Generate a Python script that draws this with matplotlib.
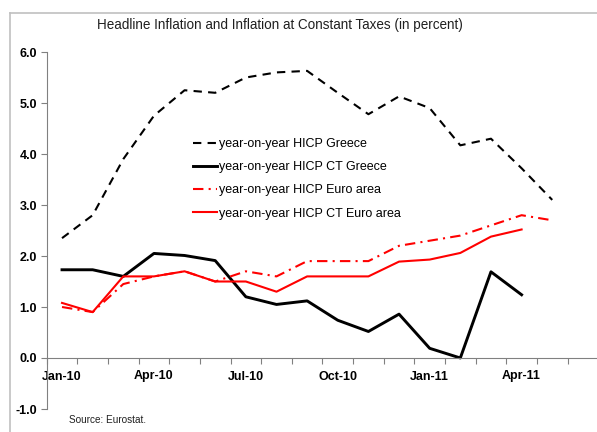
import matplotlib
matplotlib.use('Agg')
import matplotlib.pyplot as plt
from matplotlib.lines import Line2D
import numpy as np

plt.rcParams['font.family'] = ['Liberation Sans', 'DejaVu Sans']

months = ['Jan-10', 'Feb-10', 'Mar-10', 'Apr-10', 'May-10', 'Jun-10', 'Jul-10', 'Aug-10', 'Sep-10',
          'Oct-10', 'Nov-10', 'Dec-10', 'Jan-11', 'Feb-11', 'Mar-11', 'Apr-11', 'May-11', 'Jun-11']

hicp_greece = [2.35, 2.8, 3.9, 4.75, 5.25, 5.2, 5.5, 5.6, 5.63, 5.2, 4.78, 5.13, 4.9, 4.17, 4.3, 3.72, 3.1]
hicp_ct_greece = [1.73, 1.73, 1.6, 2.05, 2.01, 1.91, 1.2, 1.05, 1.12, 0.74, 0.52, 0.86, 0.19, 0.0, 1.69, 1.24]
hicp_euro = [1.0, 0.9, 1.45, 1.6, 1.7, 1.5, 1.7, 1.6, 1.9, 1.9, 1.9, 2.2, 2.3, 2.4, 2.6, 2.8, 2.7]
hicp_ct_euro = [1.08, 0.9, 1.6, 1.6, 1.7, 1.5, 1.5, 1.3, 1.6, 1.6, 1.6, 1.89, 1.93, 2.06, 2.38, 2.52]

labels = ['year-on-year HICP Greece', 'year-on-year HICP CT Greece',
          'year-on-year HICP Euro area', 'year-on-year HICP CT Euro area']

W, H = 597, 432
fig = plt.figure(figsize=(W / 100, H / 100), dpi=100)

# grey frame around the chart (it runs off the image on right and bottom)
fig.add_artist(Line2D([10 / W, 10 / W], [0, 1 - 13 / H], color='#c0c0c0', lw=1.2))
fig.add_artist(Line2D([10 / W, 1], [1 - 13 / H, 1 - 13 / H], color='#c0c0c0', lw=1.2))

ax = fig.add_axes([46.7 / W, 1 - 409 / H, 551.5 / W, 357 / H])

x = np.arange(len(months))
ax.plot(x[:len(hicp_greece)], hicp_greece, color='black', lw=1.5, dashes=(4, 3), label=labels[0])
ax.plot(x[:len(hicp_ct_greece)], hicp_ct_greece, color='black', lw=2.1, label=labels[1])
ax.plot(x[:len(hicp_euro)], hicp_euro, color='#ff0000', lw=1.5, dashes=(5, 2.5, 1, 2.5), label=labels[2])
ax.plot(x[:len(hicp_ct_euro)], hicp_ct_euro, color='#ff0000', lw=1.5, label=labels[3])

ax.set_xlim(-0.5, len(months) - 0.5)
ax.set_ylim(-1.0, 6.0)

for s in ['top', 'right']:
    ax.spines[s].set_visible(False)
ax.spines['bottom'].set_position(('data', 0))
ax.spines['left'].set_color('#808080')
ax.spines['bottom'].set_color('#808080')

ax.set_yticks(np.arange(-1, 7, 1))
ax.set_yticklabels(['%.1f' % v for v in np.arange(-1, 7, 1)], fontsize=9, fontweight='bold')
ax.tick_params(axis='y', direction='out', length=4, color='#808080', pad=3)

ax.set_xticks(np.arange(-0.5, len(months), 1))
ax.set_xticklabels([])
ax.tick_params(axis='x', which='major', direction='out', length=4, color='#808080')
ax.set_xticks(x[::3], minor=True)
ax.set_xticklabels(months[::3], minor=True, fontsize=9, fontweight='bold')
ax.tick_params(axis='x', which='minor', length=0, pad=9)

ax.legend(loc='upper left', bbox_to_anchor=(193 / W, 1 - 138 / H), bbox_transform=fig.transFigure,
          frameon=False, fontsize=9, handlelength=1.9, handletextpad=0.2, labelspacing=0.9,
          borderaxespad=0, borderpad=0)

fig.text(280 / W, 1 - 25 / H, 'Headline Inflation and Inflation at Constant Taxes (in percent)',
         ha='center', va='center', fontsize=9.75, color='#202020')
fig.text(69 / W, 1 - 420 / H, 'Source: Eurostat.', ha='left', va='center', fontsize=7.2, color='#202020')

fig.savefig('out.png', dpi=100)
